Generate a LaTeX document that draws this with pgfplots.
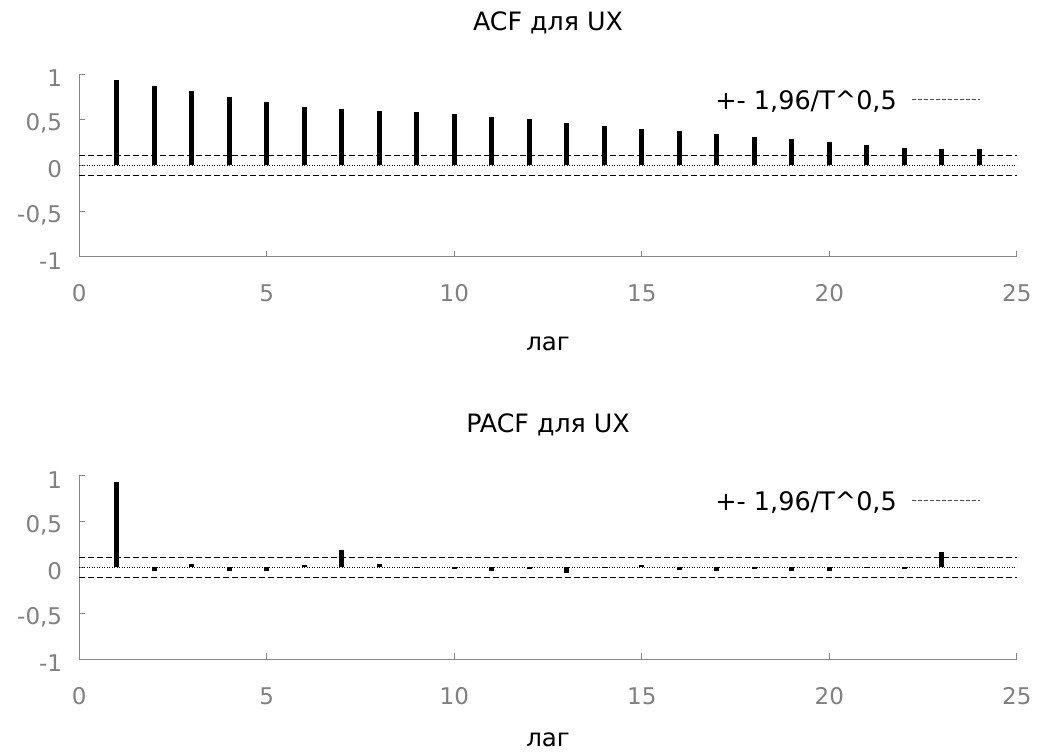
\documentclass[border=0pt]{standalone}
\usepackage{fontspec}
\setmainfont{DejaVu Sans}
\usepackage{pgfplots}
\pgfplotsset{compat=1.18}
\definecolor{axgray}{HTML}{868686}
\definecolor{lblgray}{HTML}{808080}

\pgfplotsset{
  acfstyle/.style={
    scale only axis, width=937.5bp,
    xmin=0, xmax=25, ymin=-1, ymax=1,
    axis x line=bottom, axis y line=left,
    axis line style={-, axgray, line width=0.8bp},
    xtick={0,5,...,25}, ytick={-1,-0.5,0,0.5,1},
    yticklabels={-1,{-0,5},0,{0,5},1},
    tick align=inside, major tick length=6bp,
    tick style={axgray, line width=0.8bp},
    /pgf/number format/assume math mode=true,
    ticklabel style={font=\fontsize{23bp}{26bp}\selectfont, text=lblgray, inner sep=0pt},
    xticklabel style={anchor=base, yshift=-45bp},
    yticklabel style={anchor=east, xshift=-17bp, yshift=-4bp},
    xlabel={лаг},
    xlabel style={at={(axis description cs:0.5,-0.5145)}, anchor=base, font=\fontsize{24.5bp}{28bp}\selectfont, inner sep=0pt},
    title style={at={(axis description cs:0.5,1.204)}, anchor=base, font=\fontsize{25.3bp}{29bp}\selectfont, inner sep=0pt},
    clip=false,
    legend plot pos=right,
    legend style={draw=none, fill=none, at={(axis description cs:0.675,0.855)}, anchor=west,
      font=\fontsize{25.5bp}{29bp}\selectfont, nodes={inner sep=0pt}},
    legend image code/.code={\path (0bp,0bp); \draw[dash pattern=on 4bp off 2bp, line width=0.8bp, black!70] (15bp,1.5bp) -- (83bp,1.5bp);},
  },
  band/.style={black, line width=0.9bp, dash pattern=on 6bp off 3bp},
  zero/.style={black, line width=0.7bp, dash pattern=on 1bp off 1.5bp, forget plot},
  stem/.style={ycomb, black, no marks, line width=5bp, forget plot},
}

\pgfplotstableread{
lag acf
1 0.934
2 0.869
3 0.810
4 0.752
5 0.690
6 0.639
7 0.617
8 0.599
9 0.580
10 0.558
11 0.533
12 0.504
13 0.467
14 0.431
15 0.401
16 0.372
17 0.343
18 0.314
19 0.285
20 0.255
21 0.219
22 0.190
23 0.182
24 0.175
}\acftable

\pgfplotstableread{
lag pacf
1 0.931
2 -0.036
3 0.033
4 -0.036
5 -0.038
6 0.022
7 0.193
8 0.040
9 -0.008
10 -0.018
11 -0.040
12 -0.015
13 -0.058
14 0.007
15 0.025
16 -0.033
17 -0.040
18 -0.015
19 -0.044
20 -0.040
21 -0.011
22 -0.018
23 0.167
24 0.004
}\pacftable

\begin{document}
\begin{tikzpicture}
\useasboundingbox (0,0) rectangle (1039bp,753bp);

\begin{axis}[acfstyle, height=182.7bp, at={(79.3bp,496.3bp)}, anchor=south west,
  title={ACF для UX}]
  \addplot[band] coordinates {(0,0.109) (25,0.109)};
  \addlegendentry{+- 1,96/T\^{}0,5}
  \addplot[band, forget plot] coordinates {(0,-0.109) (25,-0.109)};
  \addplot[zero] coordinates {(0,0) (25,0)};
  \addplot[stem] table[x=lag, y=acf] {\acftable};
\end{axis}

\begin{axis}[acfstyle, height=183.3bp, at={(79.3bp,94bp)}, anchor=south west,
  title={PACF для UX},
  xlabel style={at={(axis description cs:0.5,-0.48)}}]
  \addplot[band] coordinates {(0,0.109) (25,0.109)};
  \addlegendentry{+- 1,96/T\^{}0,5}
  \addplot[band, forget plot] coordinates {(0,-0.109) (25,-0.109)};
  \addplot[zero] coordinates {(0,0) (25,0)};
  \addplot[stem] table[x=lag, y=pacf] {\pacftable};
\end{axis}
\end{tikzpicture}
\end{document}
